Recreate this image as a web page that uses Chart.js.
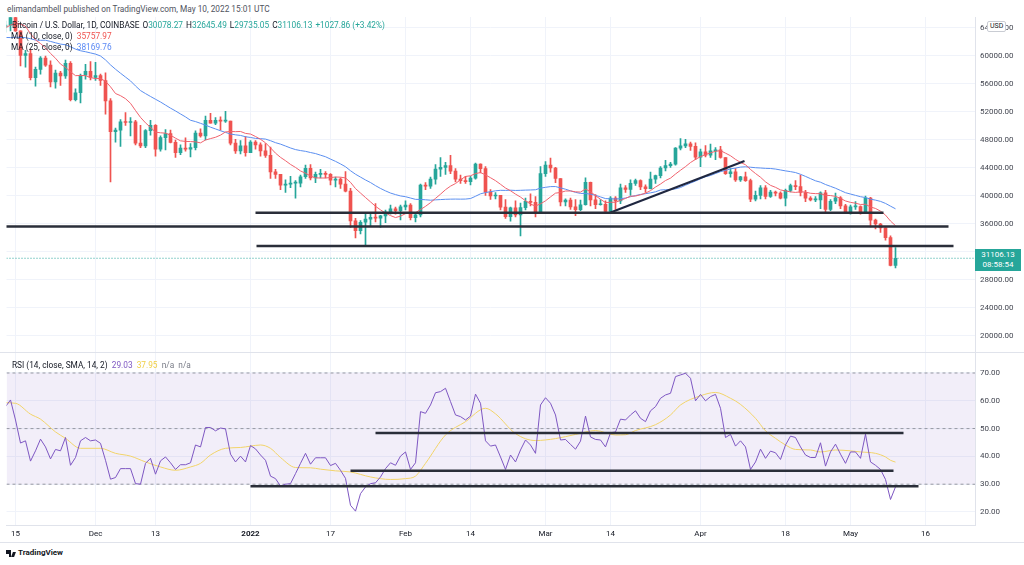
<!DOCTYPE html>
<html>
<head>
<meta charset="utf-8">
<script src="https://cdn.jsdelivr.net/npm/chart.js@4.4.1/dist/chart.umd.min.js"></script>
<style>
  body { margin: 0; width: 1024px; height: 565px; overflow: hidden; background: #fff; position: relative; font-family: Roboto, sans-serif; color: #131722; }
  .abs { position: absolute; white-space: nowrap; }
  .lg { font-size: 8.3px; line-height: 10px; }
  .g { color: #26a69a; }
  .sp { margin-left: 3px; }
  #pricePane { position: absolute; left: 0; top: 17px; width: 1024px; height: 335px; }
  #rsiPane { position: absolute; left: 0; top: 352px; width: 1024px; height: 190px; }
  .hl { position: absolute; left: 0; width: 1024px; height: 1px; background: #e0e3eb; }
</style>
</head>
<body>
<div id="pricePane"><canvas id="price"></canvas></div>
<div id="rsiPane"><canvas id="rsi"></canvas></div>
<div class="hl" style="top:352px"></div>
<div class="hl" style="top:542px"></div>

<div class="abs" style="left:7px;top:4px;font-size:8.3px;color:#50535e">elimandambell published on TradingView.com, May 10, 2022 15:01 UTC</div>
<div class="abs lg" style="left:12px;top:20px">Bitcoin / U.S. Dollar, 1D, COINBASE<span class="sp">O</span><span class="g">30078.27</span><span class="sp">H</span><span class="g">32645.49</span><span class="sp">L</span><span class="g">29735.05</span><span class="sp">C</span><span class="g">31106.13</span><span class="g sp">+1027.86 (+3.42%)</span></div>
<div class="abs lg" style="left:11px;top:31px">MA (10, close, 0)&nbsp; <span style="color:#ef5350">35757.97</span></div>
<div class="abs lg" style="left:11px;top:42px">MA (25, close, 0)&nbsp; <span style="color:#5b8af5">38169.76</span></div>
<div class="abs lg" style="left:12px;top:360px">RSI (14, close, SMA, 14, 2)&nbsp; <span style="color:#7e57c2">29.03</span>&nbsp; <span style="color:#f0cf45">37.95</span>&nbsp; <span style="color:#787b86">n/a</span>&nbsp; <span style="color:#787b86">n/a</span></div>

<div class="abs" style="left:975px;top:249px;width:46px;height:22px;background:#26a69a;color:#fff;font-size:8px;line-height:10px;text-align:center;padding-top:1px;box-sizing:border-box">31106.13<br>08:58:54</div>
<div class="abs" style="left:987px;top:21px;font-size:7px;line-height:9px;padding:0 2px;border:1px solid #c9ccd3;border-radius:2px;background:#fff;color:#131722">USD</div>

<div class="abs" style="left:6px;top:550px;width:5px;height:4px;background:#131722"></div>
<div class="abs" style="left:9px;top:550px;width:2px;height:7px;background:#131722"></div>
<div class="abs" style="left:12px;top:552px;width:3px;height:5px;background:#131722;transform:skewX(-20deg)"></div>
<div class="abs" style="left:18px;top:548px;font-size:8px;line-height:10px;font-weight:bold;color:#131722">TradingView</div>

<script>
// day 0 = 15 Nov 2021, arrays start at day -3 (12 Nov 2021), daily bars to 10 May 2022
const FIRST_DAY = -3;

const opens = [
  64950, 64150, 64400, 65500,
  63600, 60100, 60350, 56900, 58100, 59700, 58700, 56300, 57550, 57150,
  58950, 53750, 54750, 57250, 57800, 56950, 57200, 56500, 53600, 49200,
  49400, 50600, 50500, 50600, 47550, 47150, 49350, 50100, 46700, 48350,
  48900, 47650, 46200, 46850, 46700, 46900, 49000, 48600, 50800, 50400,
  50800, 50700, 50700, 47550, 46450, 47150, 46200, 47700, 47300, 46450,
  45800, 43450, 43100, 41550, 41700, 41850, 41850, 42750, 43950, 42600,
  43100, 43200, 43100, 42250, 42400, 41700, 40700, 36450, 35050, 36250,
  36700, 36950, 36850, 37150, 37700, 38150, 37900, 38450, 38700, 36900,
  37300, 41550, 41400, 42400, 43850, 44100, 44350, 43550, 42400, 42200,
  42050, 42550, 44550, 43900, 40550, 40000, 40100, 38400, 37050, 38300,
  37300, 38350, 39250, 39100, 37700, 43200, 44400, 44000, 42500, 39150,
  39400, 38450, 38050, 38750, 41950, 39450, 38750, 38800, 37800, 39700,
  39300, 41150, 40950, 41800, 42200, 41300, 41050, 42400, 42900, 44000,
  44350, 44550, 46850, 47150, 47450, 47100, 45550, 46300, 45850, 46450,
  46600, 45500, 43200, 43450, 42300, 42750, 42200, 39550, 40100, 41150,
  39950, 40550, 40400, 39700, 40800, 41500, 41350, 40500, 39700, 39450,
  39450, 40450, 38100, 39250, 39750, 38600, 37650, 38450, 38500, 37700,
  39700, 36550, 36000, 35450, 34050, 30078.27
];
const highs = [
  65450, 65000, 65500, 66300,
  63600, 60800, 60900, 58400, 59900, 60000, 59300, 58000, 57800, 59400,
  59200, 55300, 57400, 58800, 59200, 59100, 57400, 57600, 53900, 49700,
  50900, 51900, 51200, 50800, 50100, 49500, 50800, 50200, 48600, 49500,
  49400, 48000, 47300, 48300, 47500, 49300, 49600, 51400, 51800, 51200,
  51300, 52100, 50700, 48100, 47900, 48500, 47900, 47900, 47600, 47500,
  47000, 43800, 43100, 42300, 42800, 42200, 43000, 44400, 44500, 43400,
  43800, 43500, 43200, 42700, 42600, 43500, 41100, 36800, 36500, 37500,
  37550, 38900, 37250, 38000, 38700, 38400, 38700, 39300, 38900, 37400,
  41700, 41900, 42700, 44500, 45500, 44800, 45800, 43900, 43000, 42800,
  42800, 44700, 44600, 44200, 40900, 40500, 40100, 39500, 38400, 39300,
  39000, 39700, 40300, 39900, 44200, 44900, 45400, 44100, 42500, 39600,
  39700, 39500, 39400, 42600, 42000, 40200, 39500, 39300, 39900, 39900,
  41700, 41500, 42300, 42400, 42300, 41600, 43400, 43000, 44200, 45100,
  44800, 46900, 48200, 48100, 47700, 47600, 46700, 47200, 47400, 46900,
  47100, 45500, 43900, 43900, 42800, 43400, 42400, 40700, 41500, 41500,
  40800, 40700, 40600, 41000, 41700, 42200, 43000, 40800, 39900, 39900,
  40600, 40800, 39500, 40400, 39900, 38800, 38700, 39200, 38600, 40000,
  39800, 36700, 36100, 35500, 34300, 32645.49
];
const lows = [
  62300, 63400, 63600, 63500,
  58600, 58400, 56600, 55700, 57400, 58500, 55600, 55400, 55800, 56800,
  53600, 53600, 53300, 56700, 56600, 56500, 55800, 51700, 42000, 47700,
  47100, 50100, 48600, 47300, 46900, 46900, 48700, 45700, 46400, 46600,
  47600, 45500, 45900, 46400, 45600, 46600, 48400, 48000, 50400, 50200,
  49400, 50500, 47300, 46100, 46000, 45700, 46200, 46700, 45700, 45500,
  42500, 42500, 40900, 40500, 41200, 39700, 41300, 42500, 42300, 41900,
  42600, 42600, 41600, 41300, 41100, 40600, 35500, 34000, 34600, 32950,
  35700, 36300, 35500, 36200, 37400, 37400, 36600, 38000, 36600, 36300,
  37000, 40900, 41100, 41700, 42800, 43100, 43200, 42000, 41800, 41800,
  41600, 42400, 43300, 40100, 39500, 39600, 38000, 36800, 36400, 37000,
  34300, 38000, 38600, 37000, 37500, 42800, 43400, 41900, 38600, 38600,
  38100, 37200, 37900, 38700, 38600, 38200, 38700, 37600, 37600, 38100,
  38900, 40500, 40100, 41500, 40900, 40500, 41000, 41800, 42600, 43600,
  44100, 44400, 46600, 46900, 46500, 45200, 44200, 45600, 45500, 45200,
  45400, 43100, 42700, 42100, 42100, 42100, 39200, 39300, 39600, 39600,
  39800, 40000, 39600, 38600, 40600, 40900, 40000, 39200, 39300, 39200,
  38200, 37700, 37900, 38900, 38200, 37600, 37400, 38100, 37400, 37700,
  35600, 35300, 34800, 33700, 30000, 29735.05
];
const closes = [
  64150, 64400, 65500, 63600,
  60100, 60350, 56900, 58100, 59700, 58700, 56300, 57550, 57150, 58950,
  53750, 54750, 57250, 57800, 56950, 57200, 56500, 53600, 49200, 49400,
  50600, 50500, 50600, 47550, 47150, 49350, 50100, 46700, 48350, 48900,
  47650, 46200, 46850, 46700, 46900, 49000, 48600, 50800, 50400, 50800,
  50700, 50700, 47550, 46450, 47150, 46200, 47700, 47300, 46450, 45800,
  43450, 43100, 41550, 41700, 41850, 41850, 42750, 43950, 42600, 43100,
  43200, 43100, 42250, 42400, 41700, 40700, 36450, 35050, 36250, 36700,
  36950, 36850, 37150, 37700, 38150, 37900, 38450, 38700, 36900, 37300,
  41550, 41400, 42400, 43850, 44100, 44350, 43550, 42400, 42200, 42050,
  42550, 44550, 43900, 40550, 40000, 40100, 38400, 37050, 38300, 37300,
  38350, 39250, 39100, 37700, 43200, 44400, 44000, 42500, 39150, 39400,
  38450, 38050, 38750, 41950, 39450, 38750, 38800, 37800, 39700, 39300,
  41150, 40950, 41800, 42200, 41300, 41050, 42400, 42900, 44000, 44350,
  44550, 46850, 47150, 47450, 47100, 45550, 46300, 45850, 46450, 46600,
  45500, 43200, 43450, 42300, 42750, 42200, 39550, 40100, 41150, 39950,
  40550, 40400, 39700, 40800, 41500, 41350, 40500, 39700, 39450, 39450,
  40450, 38100, 39250, 39750, 38600, 37650, 38450, 38500, 37700, 39700,
  36550, 36000, 35450, 34050, 30100, 31106.13
];
const ma10 = [
  63870, 64020, 64420, 64680,
  64540, 64250, 63180, 62300, 61780, 61150, 60370, 59680, 58850, 58380,
  57750, 57190, 57220, 57190, 56920, 56770, 56790, 56390, 55600, 54640,
  54330, 53900, 53240, 52210, 51230, 50450, 49810, 49120, 49030, 48980,
  48690, 48260, 47880, 47800, 47770, 47740, 47590, 48000, 48200, 48390,
  48700, 49150, 49220, 49190, 49220, 48940, 48850, 48500, 48100, 47600,
  46880, 46120, 45520, 45040, 44510, 44080, 43580, 43250, 42860, 42590,
  42570, 42570, 42640, 42710, 42690, 42580, 41950, 41060, 40420, 39780,
  39160, 38530, 38020, 37550, 37200, 36920, 37120, 37480, 37550, 37610,
  38070, 38520, 39050, 39660, 40260, 40900, 41410, 41780, 42310, 42790,
  42890, 43200, 43350, 43020, 42610, 42190, 41670, 41140, 40750, 40270,
  39850, 39320, 38840, 38560, 38880, 39310, 39870, 40410, 40500, 40710,
  40720, 40600, 40560, 40990, 40610, 40050, 39530, 39060, 39110, 39100,
  39370, 39660, 39970, 39990, 40180, 40410, 40770, 41280, 41710, 42210,
  42550, 43140, 43680, 44200, 44780, 45230, 45620, 45920, 46160, 46390,
  46480, 46120, 45750, 45230, 44800, 44460, 43790, 43210, 42680, 42020,
  41520, 41240, 40870, 40720, 40590, 40510, 40600, 40560, 40390, 40340,
  40330, 40100, 40060, 39950, 39660, 39290, 39090, 38970, 38790, 38820,
  38430, 38220, 37840, 37270, 36420, 35757.97
];
const ma25 = [
  62650, 62650, 62630, 62690,
  62660, 62620, 62470, 62270, 62240, 62250, 62080, 61890, 61700, 61610,
  61320, 60980, 60750, 60610, 60440, 60270, 60000, 59440, 58730, 58110,
  57540, 56990, 56440, 55720, 55060, 54630, 54220, 53820, 53430, 52990,
  52550, 52150, 51720, 51300, 50820, 50630, 50380, 50130, 49830, 49580,
  49320, 49090, 48850, 48740, 48650, 48470, 48360, 48230, 48190, 48130,
  47900, 47620, 47410, 47140, 46860, 46630, 46490, 46380, 46210, 46060,
  45830, 45610, 45270, 44950, 44580, 44180, 43610, 43110, 42700, 42290,
  41920, 41480, 41080, 40730, 40420, 40200, 40010, 39900, 39710, 39520,
  39510, 39460, 39400, 39450, 39490, 39530, 39550, 39560, 39550, 39560,
  39640, 39960, 40310, 40490, 40620, 40740, 40810, 40800, 40830, 40790,
  40810, 40840, 40860, 40890, 41130, 41240, 41340, 41350, 41160, 40970,
  40740, 40520, 40370, 40360, 40260, 40100, 39870, 39630, 39600, 39570,
  39610, 39710, 39900, 40060, 40220, 40330, 40450, 40600, 40860, 40900,
  40910, 41020, 41210, 41540, 41850, 42130, 42460, 42750, 42930, 43210,
  43480, 43660, 43880, 43990, 44130, 44170, 44110, 44040, 44000, 43950,
  43930, 43850, 43720, 43590, 43480, 43350, 43100, 42800, 42480, 42170,
  41970, 41640, 41380, 41110, 40790, 40470, 40280, 40090, 39900, 39780,
  39550, 39410, 39230, 38940, 38550, 38169.76
];
const rsi = [
  56.5, 57.9, 60.3, 53.1,
  44.8, 45.6, 38.3, 42.0, 46.2, 43.4, 39.1, 42.5, 42.0, 46.8,
  36.8, 39.6, 45.6, 46.8, 45.6, 45.9, 44.7, 38.6, 31.8, 32.4,
  35.6, 35.6, 35.6, 30.2, 30.0, 37.5, 39.3, 33.6, 38.4, 39.8,
  37.7, 35.3, 37.0, 37.0, 37.7, 44.1, 43.4, 50.4, 50.4, 49.2,
  50.2, 49.9, 40.8, 38.0, 40.1, 38.0, 43.9, 42.7, 40.5, 38.6,
  32.9, 32.0, 29.3, 30.0, 30.2, 33.8, 37.5, 41.1, 37.2, 39.5,
  39.5, 39.5, 36.7, 37.5, 35.0, 32.1, 22.4, 20.3, 26.6, 29.0,
  30.2, 30.5, 32.6, 35.6, 37.7, 36.8, 40.1, 41.6, 35.3, 37.7,
  56.1, 55.5, 58.5, 62.9, 63.3, 64.5, 59.7, 54.9, 54.3, 53.1,
  54.5, 62.4, 59.1, 45.6, 43.7, 44.1, 39.8, 35.3, 40.5, 38.0,
  42.3, 45.9, 44.1, 41.1, 58.5, 61.1, 59.1, 54.9, 45.9, 46.1,
  44.3, 42.6, 45.5, 54.5, 47.0, 46.1, 45.9, 43.4, 48.5, 48.8,
  53.4, 53.1, 54.9, 56.4, 53.7, 52.5, 56.4, 57.9, 60.9, 62.1,
  62.7, 68.7, 69.3, 69.9, 68.1, 60.0, 62.3, 60.0, 61.5, 62.3,
  57.3, 46.8, 47.9, 43.7, 45.6, 43.4, 35.3, 38.0, 42.6, 39.3,
  41.9, 41.3, 38.9, 44.1, 47.3, 46.8, 43.4, 40.5, 39.6, 39.6,
  44.9, 36.5, 41.6, 44.4, 40.8, 37.5, 41.6, 41.6, 39.3, 48.0,
  38.0, 36.8, 35.3, 31.7, 24.5, 29.03
];
// RSI-based moving average, read at these days
const smaDays = [-2, 0, 3, 5, 8, 10, 13, 17, 20, 23, 26, 29, 32, 35, 37, 39, 42, 45, 47, 49, 51, 53, 56, 59, 61, 64, 67, 71, 75, 78, 80, 82, 86, 90, 94, 96, 100, 104, 108, 112, 116, 120, 122, 124, 128, 131, 133, 137, 140, 143, 145, 148, 150, 152, 154, 156, 159, 161, 164, 167, 169, 172, 174, 175, 176];
const smaValues = [59.3, 59.1, 55.2, 53.4, 48.8, 46.5, 42.9, 42.9, 41.1, 40.1, 38.0, 36.2, 35.0, 36.2, 37.5, 40.5, 42.9, 43.2, 43.7, 44.1, 42.9, 39.6, 36.0, 35.9, 35.4, 34.8, 34.4, 32.6, 31.7, 32.0, 32.9, 37.5, 47.7, 52.5, 57.3, 55.3, 48.2, 45.7, 46.4, 47.9, 49.3, 47.7, 47.8, 49.3, 51.4, 54.9, 58.5, 61.8, 63.0, 60.9, 58.7, 53.7, 49.2, 46.5, 44.1, 42.5, 42.3, 41.6, 42.3, 42.0, 41.6, 41.1, 39.8, 38.6, 37.95];

const tickDays = [0, 16, 28, 47, 63, 78, 91, 106, 119, 137, 154, 167, 182];
const tickLabels = ['15', 'Dec', '13', '2022', '17', 'Feb', '14', 'Mar', '14', 'Apr', '18', 'May', '16'];
const priceTicks = [20000, 24000, 28000, 32000, 36000, 40000, 44000, 48000, 52000, 56000, 60000, 64000];
const rsiTicks = [20, 30, 40, 50, 60, 70];
const rsiGuides = [70, 50, 30];

// hand-drawn horizontal levels (price pane)
const levelPrices = [37620, 35640, 32860];
const levelFrom = [48, -2, 48.2];
const levelTo = [173.6, 186.6, 187.6];
// rising trend line
const trendDays = [119, 145.8];
const trendPrices = [37640, 45000];
// hand-drawn levels (RSI pane)
const rsiLevels = [48.4, 34.8, 29.3];
const rsiFrom = [72, 67, 47];
const rsiTo = [177.6, 175.6, 180.6];

const X_MIN = -1.8, X_MAX = 191.9;
const UP = '#26a69a', DOWN = '#ef5350', INK = '#2a2e39', GRID = '#f0f3fa';
const days = closes.map((_, i) => i + FIRST_DAY);
const lastClose = closes[closes.length - 1];

Chart.defaults.font.family = 'Roboto, sans-serif';
Chart.defaults.font.size = 8;

const candleColor = ctx => closes[ctx.dataIndex] >= opens[ctx.dataIndex] ? UP : DOWN;

function hLine(from, to, v, color, width, order, dash) {
    return { type: 'line', data: [{ x: from, y: v }, { x: to, y: v }], borderColor: color, borderWidth: width,
        borderDash: dash || [], pointRadius: 0, order: order, borderCapStyle: 'butt' };
}

// stop the scales from reserving room for half a label at the pane edges
function noEdgePad(s) { s.paddingTop = 0; s.paddingBottom = 0; s.paddingLeft = 0; s.paddingRight = 0; }

const xBase = {
    type: 'linear', min: X_MIN, max: X_MAX, offset: false,
    afterBuildTicks: s => { s.ticks = tickDays.map(v => ({ value: v })); },
    grid: { color: GRID, drawTicks: false, offset: false }
};

/* ---------- price pane ---------- */
new Chart(document.getElementById('price'), {
    type: 'bar',
    data: {
        datasets: [
            ...levelPrices.map((v, i) => hLine(levelFrom[i], levelTo[i], v, INK, 2.5, 0)),
            { type: 'line', data: trendDays.map((d, i) => ({ x: d, y: trendPrices[i] })), borderColor: '#1f2740', borderWidth: 2, pointRadius: 0, order: 0 },
            { type: 'line', data: days.map((d, i) => ({ x: d, y: ma10[i] })), borderColor: '#f0636e', borderWidth: 1, pointRadius: 0, order: 1 },
            { type: 'line', data: days.map((d, i) => ({ x: d, y: ma25[i] })), borderColor: '#5b8ff0', borderWidth: 1, pointRadius: 0, order: 1 },
            { data: days.map((d, i) => ({ x: d, y: [opens[i], closes[i]] })), backgroundColor: candleColor, barThickness: 3, minBarLength: 1, grouped: false, order: 3 },
            { data: days.map((d, i) => ({ x: d, y: [lows[i], highs[i]] })), backgroundColor: candleColor, barThickness: 1, grouped: false, order: 4 },
            hLine(X_MIN, X_MAX, lastClose, UP, 1, 5, [1, 2])
        ]
    },
    options: {
        animation: false, responsive: true, maintainAspectRatio: false,
        layout: { padding: { left: 6.5, right: 0, top: 0, bottom: 0 }, autoPadding: false },
        plugins: { legend: { display: false }, tooltip: { enabled: false } },
        scales: {
            x: { ...xBase, afterFit: s => { s.height = 0; noEdgePad(s); }, ticks: { display: false }, border: { display: false } },
            y: {
                position: 'right', min: 17714, max: 65571,
                afterBuildTicks: s => { s.ticks = priceTicks.map(v => ({ value: v })); },
                afterFit: s => { s.width = 49; noEdgePad(s); },
                grid: { color: GRID, drawTicks: false },
                border: { color: '#e0e3eb' },
                ticks: { padding: 5, color: '#434651', callback: v => v.toFixed(2) }
            }
        }
    }
});

/* ---------- RSI pane ---------- */
new Chart(document.getElementById('rsi'), {
    type: 'line',
    data: {
        datasets: [
            ...rsiLevels.map((v, i) => hLine(rsiFrom[i], rsiTo[i], v, INK, 2.5, 0)),
            { data: days.map((d, i) => ({ x: d, y: rsi[i] })), borderColor: '#7e57c2', borderWidth: 1, pointRadius: 0, order: 1 },
            { data: smaDays.map((d, i) => ({ x: d, y: smaValues[i] })), borderColor: '#f2d46a', borderWidth: 1, pointRadius: 0, cubicInterpolationMode: 'monotone', order: 2 },
            ...rsiGuides.map(v => hLine(X_MIN, X_MAX, v, '#9598a1', 1, 3, [3, 3])),
            { ...hLine(X_MIN, X_MAX, rsiGuides[0], 'rgba(0,0,0,0)', 0, 4), fill: { value: rsiGuides[2] }, backgroundColor: 'rgba(126,87,194,0.1)' }
        ]
    },
    options: {
        animation: false, responsive: true, maintainAspectRatio: false,
        layout: { padding: { left: 6.5, right: 0, top: 0, bottom: 0 }, autoPadding: false },
        plugins: { legend: { display: false }, tooltip: { enabled: false } },
        scales: {
            x: {
                ...xBase,
                afterFit: s => { s.height = 17; noEdgePad(s); },
                border: { color: '#e0e3eb' },
                ticks: {
                    padding: 4, maxRotation: 0, autoSkip: false, color: '#131722',
                    font: ctx => ({ size: 8, weight: tickLabels[ctx.index] === '2022' ? 'bold' : 'normal' }),
                    callback: v => tickLabels[tickDays.indexOf(v)]
                }
            },
            y: {
                position: 'right', min: 15.32, max: 77.55,
                afterBuildTicks: s => { s.ticks = rsiTicks.map(v => ({ value: v })); },
                afterFit: s => { s.width = 49; noEdgePad(s); },
                grid: { color: GRID, drawTicks: false },
                border: { color: '#e0e3eb' },
                ticks: { padding: 5, color: '#434651', callback: v => v.toFixed(2) }
            }
        }
    }
});
</script>
</body>
</html>
